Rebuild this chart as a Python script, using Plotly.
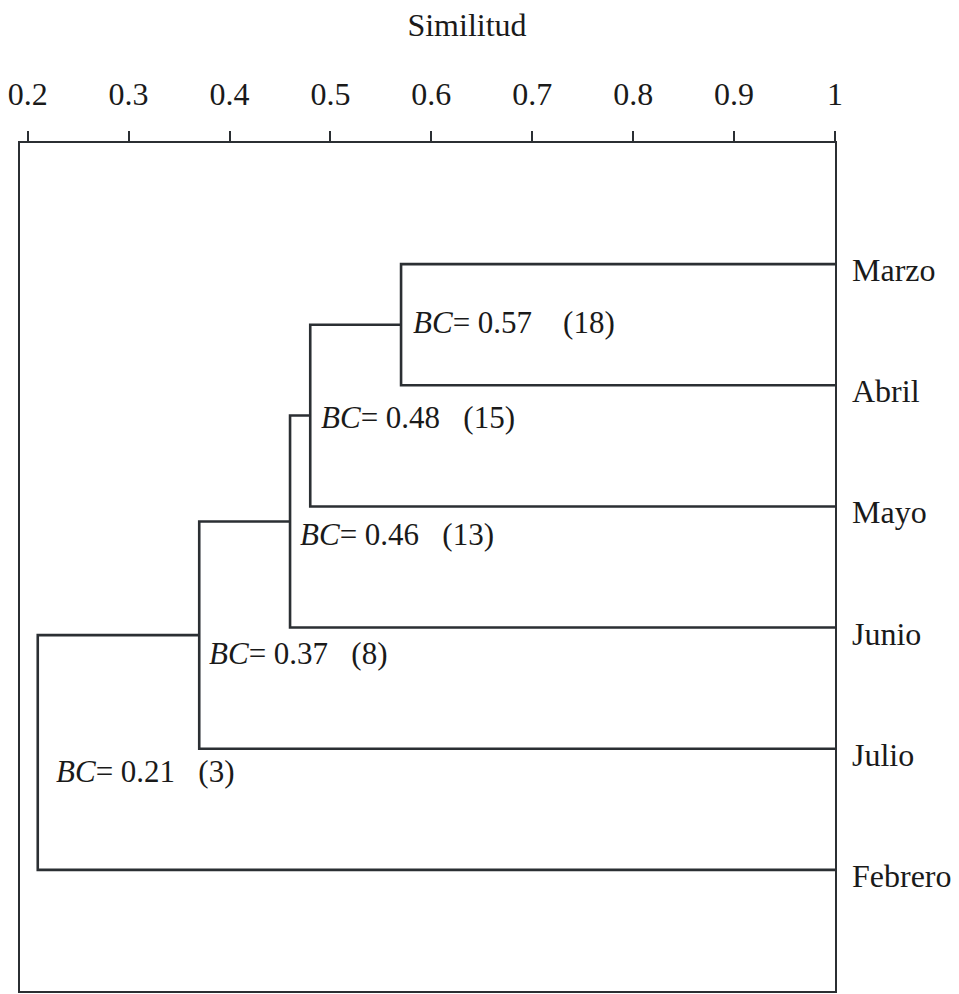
import plotly.graph_objects as go

# Months (leaves), top to bottom
leaves = ["Marzo", "Abril", "Mayo", "Junio", "Julio", "Febrero"]

# Agglomeration steps: pairs of cluster ids (leaves 0..5, new clusters 6..10)
merge_pairs = [(0, 1), (6, 2), (7, 3), (8, 4), (9, 5)]
# Bray-Curtis similarity at each merge and the count shown in parentheses
merge_bc = [0.57, 0.48, 0.46, 0.37, 0.21]
merge_n = [18, 15, 13, 8, 3]

x_ticks = [0.2, 0.3, 0.4, 0.5, 0.6, 0.7, 0.8, 0.9, 1.0]
x_tick_text = ["0.2", "0.3", "0.4", "0.5", "0.6", "0.7", "0.8", "0.9", "1"]

INK = "#2b2f33"
TEXT = "#1a1a1a"
FONT = "Liberation Serif"
FS = 32
FS_LABEL = 31

# coordinates of every leaf / cluster: x = similarity, y = row position
pos_x = {i: 1.0 for i in range(len(leaves))}
pos_y = {i: float(i) for i in range(len(leaves))}

xs, ys = [], []
for k, ((a, b), s) in enumerate(zip(merge_pairs, merge_bc)):
    node = len(leaves) + k
    pos_x[node] = s
    pos_y[node] = (pos_y[a] + pos_y[b]) / 2
    xs += [pos_x[a], s, s, pos_x[b], None]
    ys += [pos_y[a], pos_y[a], pos_y[b], pos_y[b], None]

fig = go.Figure()
fig.add_trace(go.Scatter(
    x=xs, y=ys, mode="lines",
    line=dict(color=INK, width=2.6),
    hoverinfo="skip", showlegend=False, cliponaxis=False,
))

annotations = []
# month names at the right end of each branch
for i, name in enumerate(leaves):
    annotations.append(dict(
        x=1.0, y=i, xref="x", yref="y", text=name, showarrow=False,
        xanchor="left", yanchor="middle", xshift=15, yshift=-6,
        font=dict(family=FONT, size=FS, color=TEXT),
    ))

# similarity labels beside each junction
label_dx = [10, 9, 8, 8, 16]
label_dy = [2, -2, -13, -18, -19]
label_gap = [4, 3, 3, 3, 3]
for k, (s, n) in enumerate(zip(merge_bc, merge_n)):
    node = len(leaves) + k
    txt = f"<i>BC</i>= {s:.2f}" + "\u00a0" * label_gap[k] + f"({n})"
    annotations.append(dict(
        x=s, y=pos_y[node], xref="x", yref="y", text=txt, showarrow=False,
        xanchor="left", yanchor="middle", xshift=label_dx[k], yshift=label_dy[k],
        font=dict(family=FONT, size=FS_LABEL, color=TEXT),
    ))

fig.update_layout(
    width=959, height=994,
    margin=dict(l=20, r=124, t=143, b=1),
    paper_bgcolor="white", plot_bgcolor="white",
    showlegend=False,
    annotations=annotations,
    title=dict(
        text="Similitud", x=467 / 959, xanchor="center", xref="container",
        y=1 - 25 / 994, yanchor="middle", yref="container",
        font=dict(family=FONT, size=FS, color=TEXT),
    ),
    xaxis=dict(
        side="top", range=[0.1924, 1.0],
        tickmode="array", tickvals=x_ticks, ticktext=x_tick_text,
        ticks="outside", ticklen=10, tickwidth=2, tickcolor=INK,
        ticklabelstandoff=13,
        tickfont=dict(family=FONT, size=FS, color=TEXT),
        showline=True, linecolor=INK, linewidth=2, mirror=True,
        showgrid=False, zeroline=False,
    ),
    yaxis=dict(
        range=[6, -1], showticklabels=False, ticks="",
        showline=True, linecolor=INK, linewidth=2, mirror=True,
        showgrid=False, zeroline=False,
    ),
)

fig.write_html("out.html")
